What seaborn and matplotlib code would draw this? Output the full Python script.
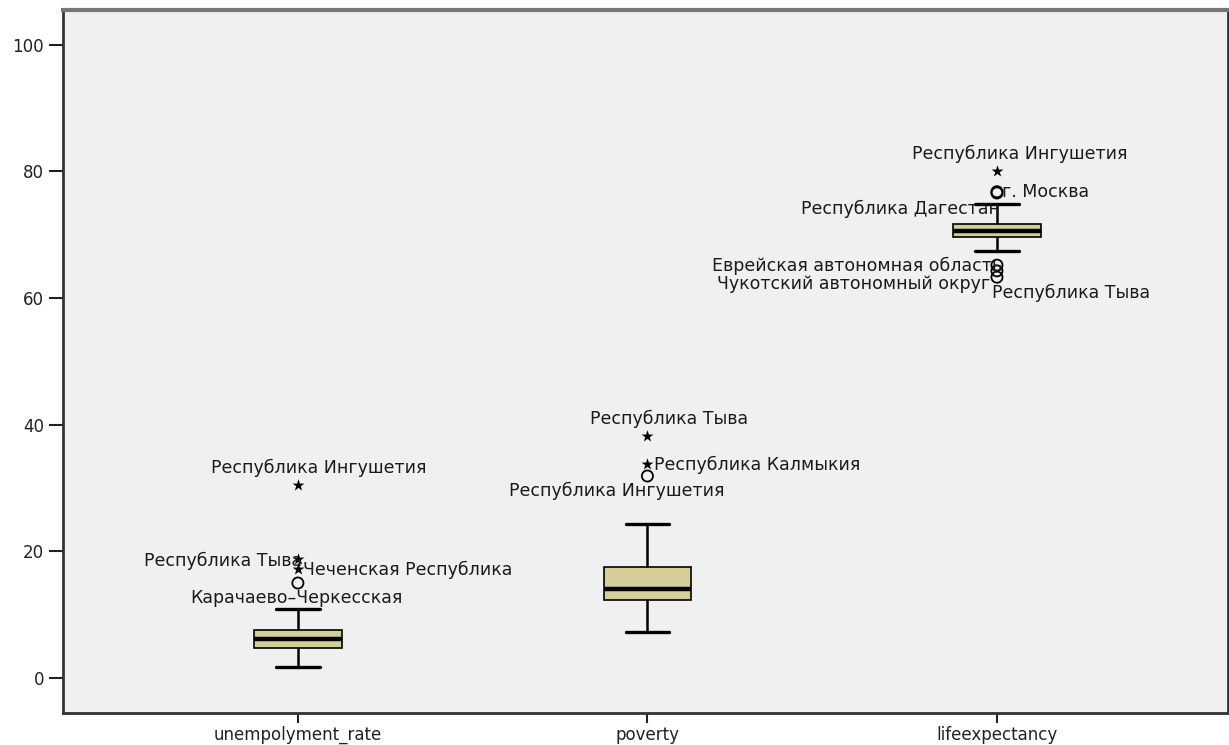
import numpy as np
import pandas as pd
import matplotlib
matplotlib.use('Agg')
import matplotlib.pyplot as plt
import seaborn as sns

sns.set_style('white')
plt.rcParams['font.family'] = ['DejaVu Sans']

# box summaries: lower whisker, Q1, median, Q3, upper whisker
categories = ['unempolyment_rate', 'poverty', 'lifeexpectancy']
unemployment_box = [1.8, 4.7, 6.1, 7.6, 10.9]
poverty_box = [7.3, 12.3, 14.0, 17.5, 24.3]
life_box = [67.4, 69.6, 70.6, 71.7, 74.9]

# outliers
out_var = ['unempolyment_rate'] * 4 + ['poverty'] * 3 + ['lifeexpectancy'] * 6
out_val = [30.5, 18.8, 17.2, 15.0,
           38.2, 33.8, 31.9,
           80.0, 76.8, 76.6, 65.2, 64.3, 63.3]
out_kind = ['extreme', 'extreme', 'extreme', 'mild',
            'extreme', 'extreme', 'mild',
            'extreme', 'mild', 'mild', 'mild', 'mild', 'mild']
out_label = ['Республика Ингушетия', 'Республика Тыва', 'Чеченская Республика', 'Карачаево–Черкесская',
             'Республика Тыва', 'Республика Калмыкия', 'Республика Ингушетия',
             'Республика Ингушетия', 'г. Москва', 'Республика Дагестан',
             'Еврейская автономная область', 'Республика Тыва', 'Чукотский автономный округ']

# label placement (pixel offsets, alignment)
label_pos = [(21, 17, 'center'), (4, -2, 'right'), (5, -1, 'left'), (-1, -15, 'center'),
             (22, 17, 'center'), (7, -1, 'left'), (-31, -15, 'center'),
             (23, 18, 'center'), (5, 0, 'left'), (3, -16, 'right'),
             (5, -1, 'right'), (-5, -22, 'left'), (-7, -7, 'right')]

box_df = pd.DataFrame({
    'variable': np.repeat(categories, 5),
    'value': unemployment_box + poverty_box + life_box,
})
out_df = pd.DataFrame({'variable': out_var, 'value': out_val, 'kind': out_kind, 'label': out_label})

fig = plt.figure(figsize=(12.29, 7.45), dpi=100)
ax = fig.add_axes([63 / 1229, 32 / 745, 1165 / 1229, 703 / 745])
ax.set_facecolor('#f0f0f0')

sns.boxplot(data=box_df, x='variable', y='value', order=categories, whis=(0, 100),
            width=0.25, color='#d4cf98', saturation=1, linecolor='black', linewidth=1.2,
            showfliers=False,
            whiskerprops={'linewidth': 1.8}, capprops={'linewidth': 2.4},
            medianprops={'linewidth': 3.2}, ax=ax)

sns.stripplot(data=out_df[out_df['kind'] == 'extreme'], x='variable', y='value', order=categories,
              jitter=False, marker='*', color='black', size=9, linewidth=0, ax=ax)
sns.stripplot(data=out_df[out_df['kind'] == 'mild'], x='variable', y='value', order=categories,
              jitter=False, marker='o', color='black', facecolors='none', edgecolor='black',
              size=8, linewidth=1.3, ax=ax)

for i, row in out_df.iterrows():
    dx, dy, ha = label_pos[i]
    ax.annotate(row['label'], (categories.index(row['variable']), row['value']),
                xytext=(dx, dy), textcoords='offset pixels', ha=ha, va='center',
                fontsize=12.5, color='#1a1a1a')

ax.set_xlim(-0.672, 2.661)
ax.set_ylim(-5.53, 105.5)
ax.set_yticks([0, 20, 40, 60, 80, 100])
ax.set_xlabel('')
ax.set_ylabel('')
ax.tick_params(axis='y', direction='out', length=10, width=1.5, color='#222222',
               labelsize=12, labelcolor='#222222', left=True)
ax.tick_params(axis='x', direction='out', length=7, width=1.5, color='#222222',
               labelsize=12, labelcolor='#222222', bottom=True, pad=2)
for side in ['left', 'bottom', 'right']:
    ax.spines[side].set_color('#333333')
    ax.spines[side].set_linewidth(2)
ax.spines['top'].set_color('#777777')
ax.spines['top'].set_linewidth(3)

plt.savefig('out.png', dpi=100)
